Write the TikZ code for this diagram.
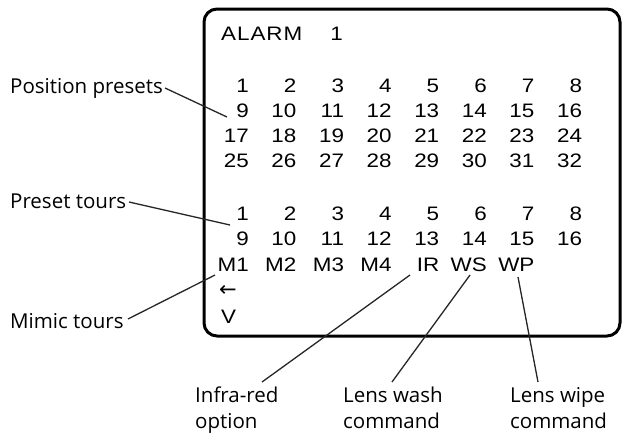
\documentclass[tikz,border=0pt]{standalone}
\usepackage{fontspec}
\setmainfont{Open Sans}
\newfontfamily\lcd[FakeStretch=1.15]{Liberation Sans}
\begin{document}
\begin{tikzpicture}[x=1pt,y=-1pt,
  lcdtxt/.style={font=\lcd\fontsize{19.5}{20}\selectfont, inner sep=0pt, anchor=base east},
  lbl/.style={font=\fontsize{20.5}{26}\selectfont, inner sep=0pt},
  leader/.style={line width=1.3pt, black!85},
  frame/.style={line width=3pt, rounded corners=13pt}]
\useasboundingbox (0,0) rectangle (625,432);
\draw[frame] (204,9) rectangle (620,336);
% header
\node[lcdtxt, anchor=base west, font=\lcd\addfontfeature{LetterSpace=5}\fontsize{19.5}{20}\selectfont] (alarm) at (221,40) {ALARM};
\node[lcdtxt] (alarmnum) at (343,40) {1};
% position presets
\foreach \r in {0,1,2,3}{
  \foreach \c in {1,...,8}{
    \pgfmathtruncatemacro{\n}{\r*8+\c}
    \node[lcdtxt] (p\n) at ({249+47.6*(\c-1)},{92+25*\r}) {\n};
  }
}
% preset tours
\foreach \r in {0,1}{
  \foreach \c in {1,...,8}{
    \pgfmathtruncatemacro{\n}{\r*8+\c}
    \node[lcdtxt] (t\n) at ({249+47.6*(\c-1)},{220+25.5*\r}) {\n};
  }
}
\node[lcdtxt] (m1) at (249,271) {M1};
\node[lcdtxt] (m2) at (296.6,271) {M2};
\node[lcdtxt] (m3) at (344.2,271) {M3};
\node[lcdtxt] (m4) at (391.8,271) {M4};
\node[lcdtxt] (ir) at (439.4,271) {IR};
\node[lcdtxt] (ws) at (487,271) {WS};
\node[lcdtxt] (wp) at (534.6,271) {WP};
\node[lcdtxt, anchor=base west, font=\fontspec{DejaVu Sans}\fontsize{21}{20}\selectfont] (arrow) at (219,296) {←};
\node[lcdtxt, anchor=base west] (v) at (221,323) {V};
% labels
\node[lbl, anchor=base west] (lpp) at (10,93) {Position presets};
\node[lbl, anchor=base west] (lpt) at (10,208) {Preset tours};
\node[lbl, anchor=base west] (lmt) at (10,328) {Mimic tours};
\node[lbl, anchor=base west, align=left] (lir) at (195,428) {Infra-red\\option};
\node[lbl, anchor=base west, align=left] (lws) at (343,428) {Lens wash\\command};
\node[lbl, anchor=base west, align=left] (lwp) at (510,428) {Lens wipe\\command};
% leader end points
\coordinate (epp) at (227,117);
\coordinate (ept) at (230,225);
\coordinate (emt) at (215,275);
\coordinate (eir) at (410,275);
\coordinate (ews) at (470,275);
\coordinate (ewp) at (518,277);
\coordinate (spp) at (165,88);
\coordinate (spt) at (129,202);
\coordinate (smt) at (128,319);
\coordinate (sir) at (262,382);
\coordinate (sws) at (392,382);
\coordinate (swp) at (538,382);
\draw[leader] (spp) -- (epp);
\draw[leader] (spt) -- (ept);
\draw[leader] (smt) -- (emt);
\draw[leader] (sir) -- (eir);
\draw[leader] (sws) -- (ews);
\draw[leader] (swp) -- (ewp);
\end{tikzpicture}
\end{document}
